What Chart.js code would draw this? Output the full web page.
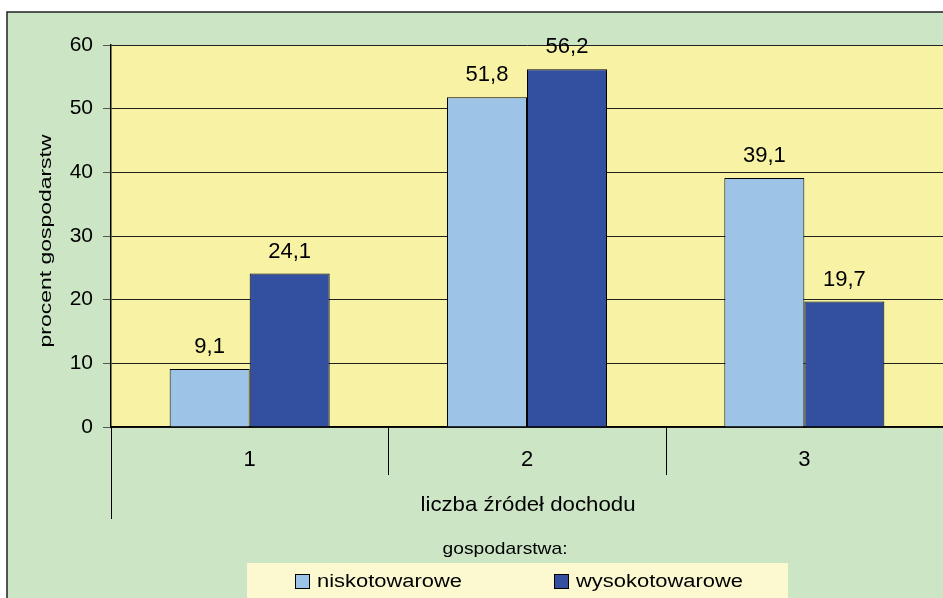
<!DOCTYPE html>
<html>
<head>
<meta charset="utf-8">
<script src="https://cdn.jsdelivr.net/npm/chart.js@4/dist/chart.umd.min.js"></script>
<style>
  html, body { margin: 0; padding: 0; background: #fff; }
  canvas { display: block; }
</style>
</head>
<body>
<canvas id="chart" width="943" height="598"></canvas>
<script>
// categories and series
var categories = ['1', '2', '3'];
var seriesNames = ['niskotowarowe', 'wysokotowarowe'];
var niskotowarowe = [9.1, 51.8, 39.1];
var wysokotowarowe = [24.1, 56.2, 19.7];
var yTicks = [0, 10, 20, 30, 40, 50, 60];

var FONT = '"Liberation Sans", Arial, sans-serif';
var GREEN = '#cce5c5';
var YELLOW = '#f7f2a4';
var LIGHT = '#9dc3e6';
var DARK = '#3350a0';

// draw text squeezed/stretched horizontally to a given width (centre anchored)
function fitText(ctx, text, cx, cy, px, targetW, vertical) {
    ctx.save();
    ctx.font = px + 'px ' + FONT;
    var w = ctx.measureText(text).width;
    ctx.translate(cx, cy);
    if (vertical) ctx.rotate(-Math.PI / 2);
    ctx.scale(targetW / w, 1);
    ctx.textAlign = 'center';
    ctx.textBaseline = 'middle';
    ctx.fillStyle = '#000';
    ctx.fillText(text, 0, 0);
    ctx.restore();
}

var framePlugin = {
    id: 'frame',
    beforeDraw: function(chart) {
        var ctx = chart.ctx, a = chart.chartArea;
        ctx.save();
        ctx.fillStyle = '#fff';
        ctx.fillRect(0, 0, chart.width, chart.height);
        ctx.fillStyle = GREEN;
        ctx.fillRect(7, 12, chart.width - 7, chart.height - 12);
        ctx.strokeStyle = '#222';
        ctx.lineWidth = 1.5;
        ctx.beginPath();
        ctx.moveTo(7, chart.height);
        ctx.lineTo(7, 12);
        ctx.lineTo(chart.width, 12);
        ctx.stroke();
        ctx.fillStyle = YELLOW;
        ctx.fillRect(a.left, a.top, a.right - a.left, a.bottom - a.top);
        ctx.restore();
    },
    afterDraw: function(chart) {
        var ctx = chart.ctx, a = chart.chartArea;
        var x = chart.scales.x;
        ctx.save();

        // category divider lines under the axis
        ctx.strokeStyle = '#000';
        ctx.lineWidth = 1;
        ctx.beginPath();
        ctx.moveTo(a.left + 0.5, a.bottom);
        ctx.lineTo(a.left + 0.5, a.bottom + 92);
        for (var i = 0; i < categories.length - 1; i++) {
            var bx = Math.round((x.getPixelForTick(i) + x.getPixelForTick(i + 1)) / 2) + 0.5;
            ctx.moveTo(bx, a.bottom);
            ctx.lineTo(bx, a.bottom + 48);
        }
        ctx.stroke();

        // value labels above bars
        ctx.font = '22px ' + FONT;
        ctx.fillStyle = '#000';
        ctx.textAlign = 'center';
        ctx.textBaseline = 'middle';
        chart.data.datasets.forEach(function(ds, di) {
            chart.getDatasetMeta(di).data.forEach(function(bar, j) {
                ctx.fillText(String(ds.data[j]).replace('.', ','), bar.x, bar.y - 22);
            });
        });

        // axis titles
        fitText(ctx, 'procent gospodarstw', 47, 241, 16, 213, true);
        fitText(ctx, 'liczba źródeł dochodu', 528, 505, 21, 215, false);

        // legend
        fitText(ctx, 'gospodarstwa:', 505, 549, 17, 125, false);
        ctx.fillStyle = '#fcf8d0';
        ctx.fillRect(247, 563, 541, chart.height - 563);
        var items = [
            { sq: 295, tx: 317, tw: 145 },
            { sq: 554, tx: 576, tw: 167 }
        ];
        chart.data.datasets.forEach(function(ds, di) {
            var it = items[di];
            ctx.fillStyle = ds.backgroundColor;
            ctx.fillRect(it.sq, 574, 14, 14);
            ctx.strokeStyle = '#000';
            ctx.lineWidth = 1;
            ctx.strokeRect(it.sq + 0.5, 574.5, 14, 14);
            fitText(ctx, ds.label, it.tx + it.tw / 2, 582, 18, it.tw, false);
        });
        ctx.restore();
    }
};

new Chart(document.getElementById('chart'), {
    type: 'bar',
    data: {
        labels: categories,
        datasets: [
            { label: seriesNames[0], data: niskotowarowe, backgroundColor: LIGHT,
              borderColor: '#000', borderWidth: 1 },
            { label: seriesNames[1], data: wysokotowarowe, backgroundColor: DARK,
              borderColor: '#000', borderWidth: 1 }
        ]
    },
    plugins: [framePlugin],
    options: {
        responsive: false,
        animation: false,
        devicePixelRatio: 1,
        layout: { padding: { top: 45, left: 0, right: 0, bottom: 0 } },
        datasets: { bar: { categoryPercentage: 0.577, barPercentage: 1 } },
        plugins: {
            legend: { display: false },
            tooltip: { enabled: false }
        },
        scales: {
            x: {
                grid: { display: false, drawTicks: false, tickLength: 0 },
                border: { display: true, color: '#000', width: 1.5 },
                ticks: { color: '#000', font: { family: FONT, size: 22 }, padding: 20 },
                afterFit: function(scale) { scale.height = 171; }
            },
            y: {
                min: 0,
                max: 60,
                afterBuildTicks: function(scale) {
                    scale.ticks = yTicks.map(function(v) { return { value: v }; });
                },
                grid: { color: '#222', lineWidth: 1, tickLength: 8, tickColor: '#555' },
                border: { display: true, color: '#000', width: 1.5 },
                ticks: { color: '#000', font: { family: FONT, size: 21 }, padding: 10 },
                afterFit: function(scale) { scale.width = 111; }
            }
        }
    }
});
</script>
</body>
</html>
